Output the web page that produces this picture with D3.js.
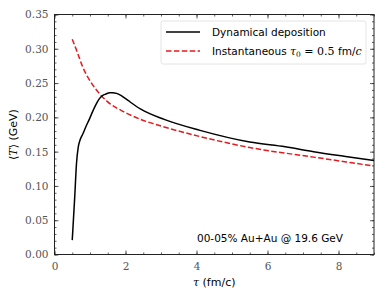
<!DOCTYPE html>
<html>
<head>
<meta charset="utf-8">
<script src="https://cdn.jsdelivr.net/npm/d3@7"></script>
<style>
  body { margin: 0; background: #fff; }
  svg { display: block; }
</style>
</head>
<body>
<div id="chart"></div>
<script>
// values
const tauDyn = [0.5, 0.57, 0.62, 0.67, 0.72, 0.8, 0.88, 0.98, 1.07, 1.17, 1.26, 1.36, 1.45, 1.55, 1.63, 1.75, 1.87, 2.06, 2.43, 3.09, 4.1, 5.5, 6.5, 7.3, 8.2, 9.0];
const tempDyn = [0.021, 0.084, 0.133, 0.157, 0.167, 0.176, 0.186, 0.197, 0.208, 0.219, 0.227, 0.232, 0.234, 0.236, 0.236, 0.235, 0.232, 0.225, 0.212, 0.197, 0.181, 0.164, 0.157, 0.150, 0.143, 0.137];

const tauInst = [0.5, 0.65, 0.79, 0.98, 1.21, 1.49, 1.96, 2.43, 3.09, 4.1, 5.5, 7.3, 9.0];
const tempInst = [0.314, 0.294, 0.274, 0.255, 0.238, 0.223, 0.208, 0.197, 0.186, 0.172, 0.156, 0.142, 0.129];

const xTicks = [0, 2, 4, 6, 8];
const yTicks = [0, 0.05, 0.10, 0.15, 0.20, 0.25, 0.30, 0.35];

const W = 390, H = 293;
const margin = { left: 54.5, right: 16, top: 14.5, bottom: 38.5 };
const iw = W - margin.left - margin.right;
const ih = H - margin.top - margin.bottom;

const svg = d3.select("#chart").append("svg")
  .attr("width", W)
  .attr("height", H);

const g = svg.append("g")
  .attr("transform", `translate(${margin.left},${margin.top})`);

const x = d3.scaleLinear().domain([0, 9]).range([0, iw]);
const y = d3.scaleLinear().domain([0, 0.35]).range([ih, 0]);

const serif = "DejaVu Serif";
const sans = "DejaVu Sans";

// axes: ticks pointing inward on all sides
const xMinor = d3.range(0, 9.01, 0.5);
const yMinor = d3.range(0, 0.3501, 0.01);

function styleAxis(sel) {
  sel.attr("font-family", serif).attr("font-size", 10.5);
  sel.select(".domain").remove();
  sel.selectAll("line").attr("stroke", "#333").attr("stroke-width", 0.8);
  sel.selectAll("text").attr("fill", "#555");
}

g.append("g").attr("transform", `translate(0,${ih})`)
  .call(d3.axisBottom(x).tickValues(xMinor).tickSize(-2).tickFormat(""))
  .call(styleAxis);
g.append("g")
  .call(d3.axisTop(x).tickValues(xMinor).tickSize(-2).tickFormat(""))
  .call(styleAxis);
g.append("g")
  .call(d3.axisLeft(y).tickValues(yMinor).tickSize(-2).tickFormat(""))
  .call(styleAxis);
g.append("g").attr("transform", `translate(${iw},0)`)
  .call(d3.axisRight(y).tickValues(yMinor).tickSize(-2).tickFormat(""))
  .call(styleAxis);

g.append("g").attr("transform", `translate(0,${ih})`)
  .call(d3.axisBottom(x).tickValues(xTicks).tickSize(-4).tickPadding(8).tickFormat(d3.format("d")))
  .call(styleAxis);
g.append("g")
  .call(d3.axisTop(x).tickValues(xTicks).tickSize(-4).tickFormat(""))
  .call(styleAxis);
g.append("g")
  .call(d3.axisLeft(y).tickValues(yTicks).tickSize(-4).tickPadding(6).tickFormat(d3.format(".2f")))
  .call(styleAxis);
g.append("g").attr("transform", `translate(${iw},0)`)
  .call(d3.axisRight(y).tickValues(yTicks).tickSize(-4).tickFormat(""))
  .call(styleAxis);

g.append("rect")
  .attr("width", iw).attr("height", ih)
  .attr("fill", "none").attr("stroke", "#222").attr("stroke-width", 1);

// curves
const line = d3.line()
  .x(d => x(d[0]))
  .y(d => y(d[1]))
  .curve(d3.curveMonotoneX);

g.append("path")
  .datum(d3.zip(tauInst, tempInst))
  .attr("d", line)
  .attr("fill", "none")
  .attr("stroke", "#e41a1c")
  .attr("stroke-width", 1.5)
  .attr("stroke-dasharray", "5.5,2.4");

g.append("path")
  .datum(d3.zip(tauDyn, tempDyn))
  .attr("d", line)
  .attr("fill", "none")
  .attr("stroke", "#000")
  .attr("stroke-width", 1.5);

// legend
const leg = svg.append("g").attr("transform", "translate(161,21)");
leg.append("rect")
  .attr("width", 205).attr("height", 43).attr("rx", 2)
  .attr("fill", "#fff").attr("fill-opacity", 0.8)
  .attr("stroke", "#ddd").attr("stroke-width", 0.8);

leg.append("line").attr("x1", 5).attr("x2", 39).attr("y1", 11).attr("y2", 11)
  .attr("stroke", "#000").attr("stroke-width", 1.5);
leg.append("line").attr("x1", 5).attr("x2", 39).attr("y1", 30).attr("y2", 30)
  .attr("stroke", "#e41a1c").attr("stroke-width", 1.5).attr("stroke-dasharray", "5.5,2.4");

leg.append("text").attr("x", 51).attr("y", 15)
  .attr("font-family", sans).attr("font-size", 10.5)
  .text("Dynamical deposition");

const t2 = leg.append("text").attr("x", 51).attr("y", 34)
  .attr("font-family", sans).attr("font-size", 10.5);
t2.append("tspan").text("Instantaneous ");
t2.append("tspan").attr("font-family", serif).attr("font-style", "italic").attr("font-size", 11).text("τ");
t2.append("tspan").attr("font-family", serif).attr("font-size", 7.5).attr("dy", 2).text("0");
t2.append("tspan").attr("font-family", serif).attr("font-size", 11).attr("dy", -2).text(" = 0.5 ");
t2.append("tspan").text("fm/");
t2.append("tspan").attr("font-family", serif).attr("font-style", "italic").attr("font-size", 11).text("c");

// annotation
svg.append("text")
  .attr("x", 197).attr("y", 242)
  .attr("font-family", sans).attr("font-size", 10.5)
  .text("00-05% Au+Au @ 19.6 GeV");

// axis labels
const xl = svg.append("text")
  .attr("x", margin.left + iw / 2).attr("y", 286)
  .attr("text-anchor", "middle")
  .attr("font-family", sans).attr("font-size", 11);
xl.append("tspan").attr("font-family", serif).attr("font-style", "italic").attr("font-size", 11).text("τ");
xl.append("tspan").text(" (fm/c)");

const yl = svg.append("text")
  .attr("transform", `translate(17,${margin.top + ih / 2}) rotate(-90)`)
  .attr("text-anchor", "middle")
  .attr("font-family", sans).attr("font-size", 11);
yl.append("tspan").attr("font-family", serif).attr("font-size", 11).text("⟨");
yl.append("tspan").attr("font-family", serif).attr("font-style", "italic").attr("font-size", 11).text("T");
yl.append("tspan").attr("font-family", serif).attr("font-size", 11).text("⟩");
yl.append("tspan").text(" (GeV)");
</script>
</body>
</html>
